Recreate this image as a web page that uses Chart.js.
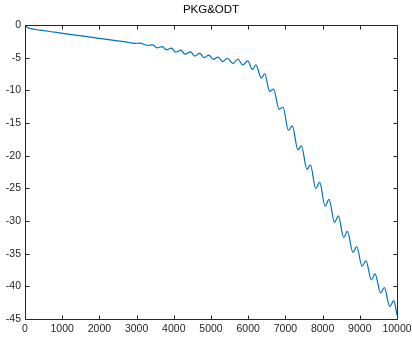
<!DOCTYPE html>
<html>
<head>
<meta charset="utf-8">
<script src="https://cdn.jsdelivr.net/npm/chart.js@4.4.1/dist/chart.umd.min.js"></script>
<style>
  html, body { margin: 0; padding: 0; background: #ffffff; }
  #wrap { width: 412px; height: 337px; }
</style>
</head>
<body>
<div id="wrap"><canvas id="c" width="412" height="337"></canvas></div>
<script>
// ---- data ----
const titleText = "PKG&ODT";
const xTickValues = [0, 1000, 2000, 3000, 4000, 5000, 6000, 7000, 8000, 9000, 10000];
const yTickValues = [-45, -40, -35, -30, -25, -20, -15, -10, -5, 0];
const xs = [0, 60, 150, 400, 800, 1300, 1800, 2300, 2700,
  2950, 3080, 3300, 3430, 3550, 3690, 3800, 3935, 4050, 4190, 4300, 4450,
  4560, 4700, 4820, 4940, 5060, 5190, 5320, 5440, 5590, 5720, 5855, 5990,
  6113, 6205, 6355, 6444, 6578, 6685, 6828, 6935, 7080, 7188, 7335, 7430,
  7580, 7672, 7815, 7922, 8065, 8172, 8320, 8425, 8565, 8667, 8815, 8917,
  9060, 9167, 9310, 9409, 9560, 9661, 9805, 9911, 10000];
const ys = [0, -0.35, -0.55, -0.78, -1.1, -1.5, -1.88, -2.27, -2.58,
  -2.8, -2.78, -3.1, -3.05, -3.5, -3.3, -3.8, -3.55, -4.15, -3.85, -4.45, -4.1,
  -4.75, -4.35, -5.0, -4.6, -5.25, -4.9, -5.6, -5.1, -5.9, -5.2, -6.1, -5.5,
  -6.8, -6.1, -8.12, -7.46, -10.17, -9.8, -12.9, -12.55, -16.1, -15.45, -19.1, -18.5,
  -22.1, -21.4, -25.0, -24.1, -27.7, -26.7, -30.2, -29.2, -32.5, -31.6, -34.8, -33.9,
  -36.9, -36.1, -39.0, -38.1, -41.0, -40.2, -43.1, -42.2, -44.4];

const points = xs.map((v, i) => ({ x: v, y: ys[i] }));

const axisColor = '#262626';
const tickLen = 4;

// inward ticks and box outline, positioned through the chart's own scales
const boxTicks = {
  id: 'boxTicks',
  afterDraw(chart) {
    const { ctx, chartArea, scales } = chart;
    const { left, right, top, bottom } = chartArea;
    const sx = scales.x, sy = scales.y;
    const r = v => Math.round(v) + 0.5;
    ctx.save();
    ctx.strokeStyle = axisColor;
    ctx.lineWidth = 1;
    ctx.beginPath();
    ctx.rect(r(left), r(top), Math.round(right) - Math.round(left), Math.round(bottom) - Math.round(top));
    xTickValues.forEach(v => {
      const px = r(sx.getPixelForValue(v));
      ctx.moveTo(px, r(bottom)); ctx.lineTo(px, r(bottom) - tickLen);
      ctx.moveTo(px, r(top)); ctx.lineTo(px, r(top) + tickLen);
    });
    yTickValues.forEach(v => {
      const py = r(sy.getPixelForValue(v));
      ctx.moveTo(r(left), py); ctx.lineTo(r(left) + tickLen, py);
      ctx.moveTo(r(right), py); ctx.lineTo(r(right) - tickLen, py);
    });
    ctx.stroke();
    ctx.restore();
  }
};

new Chart(document.getElementById('c'), {
  type: 'line',
  data: {
    datasets: [{
      data: points,
      borderColor: '#0072BD',
      borderWidth: 1.2,
      pointRadius: 0,
      fill: false,
      cubicInterpolationMode: 'monotone'
    }]
  },
  options: {
    responsive: false,
    animation: false,
    devicePixelRatio: 1,
    layout: { padding: { left: 0, right: 15, top: 0, bottom: 0 } },
    plugins: {
      legend: { display: false },
      tooltip: { enabled: false },
      title: {
        display: true,
        text: titleText,
        color: '#000000',
        fullSize: false,
        font: { family: '"Liberation Sans", Arial, sans-serif', size: 11.5, weight: 'normal', lineHeight: 1.045 },
        padding: { top: 4, bottom: 9 }
      }
    },
    scales: {
      x: {
        type: 'linear',
        min: 0, max: 10000,
        afterFit(scale) { scale.height = 18; scale.paddingLeft = 0; scale.paddingRight = 0; },
        afterBuildTicks(scale) { scale.ticks = xTickValues.map(v => ({ value: v })); },
        grid: { display: false, drawTicks: false },
        border: { display: false },
        ticks: {
          color: axisColor,
          padding: 4,
          maxRotation: 0,
          autoSkip: false,
          font: { family: '"Liberation Sans", Arial, sans-serif', size: 10.5 },
          callback: v => String(v)
        }
      },
      y: {
        type: 'linear',
        min: -45, max: 0,
        afterFit(scale) { scale.width = 25; scale.paddingTop = 0; scale.paddingBottom = 0; },
        afterBuildTicks(scale) { scale.ticks = yTickValues.map(v => ({ value: v })); },
        grid: { display: false, drawTicks: false },
        border: { display: false },
        ticks: {
          color: axisColor,
          padding: 4,
          autoSkip: false,
          font: { family: '"Liberation Sans", Arial, sans-serif', size: 10.5 },
          callback: v => String(v)
        }
      }
    }
  },
  plugins: [boxTicks]
});
</script>
</body>
</html>
